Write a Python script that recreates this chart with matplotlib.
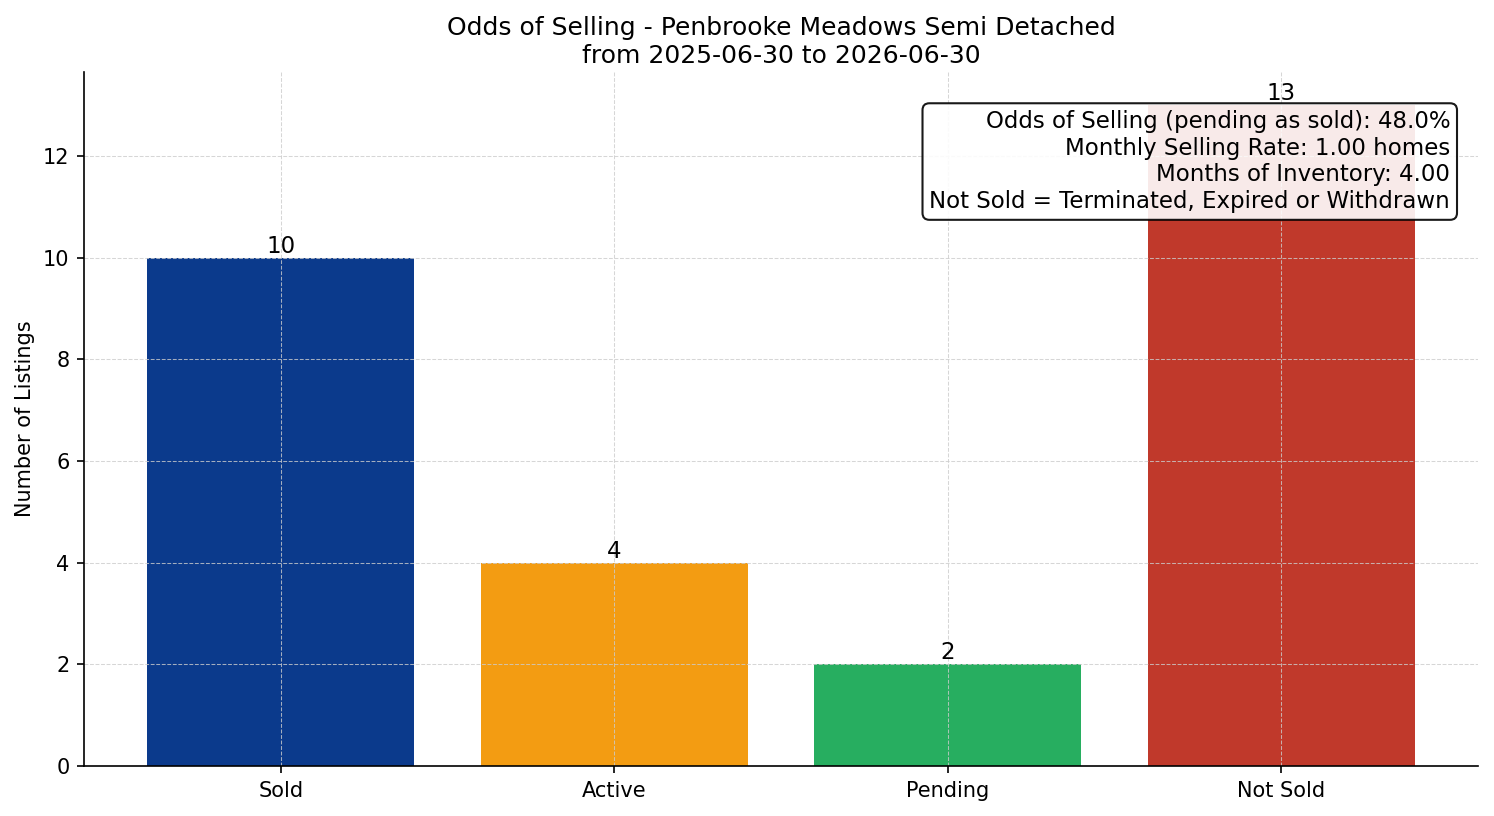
import matplotlib
matplotlib.use("Agg")
import matplotlib.pyplot as plt

# data
categories = ["Sold", "Active", "Pending", "Not Sold"]
counts = [10, 4, 2, 13]
bar_colors = ["#0B3A8C", "#F39C12", "#27AE60", "#C0392B"]

title = "Odds of Selling - Penbrooke Meadows Semi Detached\nfrom 2025-06-30 to 2026-06-30"
stats_lines = [
    "Odds of Selling (pending as sold): 48.0%",
    "Monthly Selling Rate: 1.00 homes",
    "Months of Inventory: 4.00",
    "Not Sold = Terminated, Expired or Withdrawn",
]

fig, ax = plt.subplots(figsize=(9.96, 5.44), dpi=150)
fig.subplots_adjust(left=0.0562, right=0.9893, top=0.9118, bottom=0.0613)
bars = ax.bar(categories, counts, color=bar_colors, width=0.8)

for b, v in zip(bars, counts):
    ax.text(b.get_x() + b.get_width() / 2, v, str(v),
            ha="center", va="bottom", fontsize=11)

ax.set_title(title, fontsize=12, pad=4.5)
ax.set_ylabel("Number of Listings", fontsize=10)
ax.grid(True, linestyle="--", linewidth=0.5, color="#cccccc", alpha=0.8)
ax.spines["top"].set_visible(False)
ax.spines["right"].set_visible(False)
ax.tick_params(labelsize=10)

ax.text(0.98, 0.945, "\n".join(stats_lines), transform=ax.transAxes,
        ha="right", va="top", fontsize=11, zorder=5,
        bbox=dict(boxstyle="round,pad=0.3", facecolor="white",
                  edgecolor="black", alpha=0.9))

plt.savefig("out.png", dpi=150)
plt.close()
